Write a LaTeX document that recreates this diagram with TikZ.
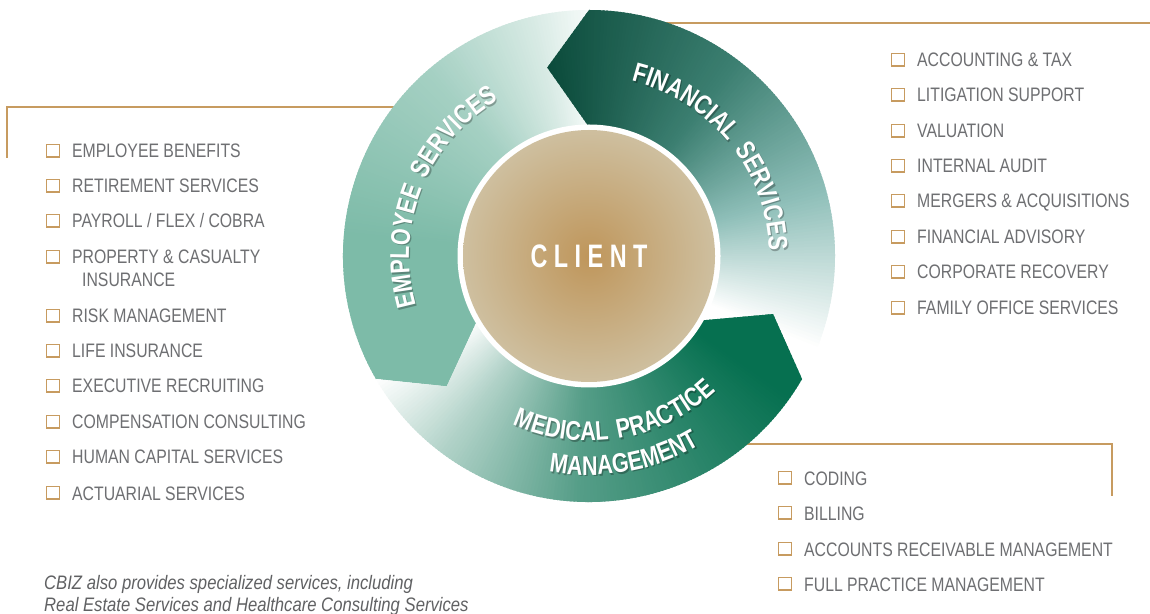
\documentclass[tikz,border=0pt]{standalone}
\usepackage{fontspec}
\setmainfont{Liberation Sans}[FakeStretch=0.81]
\newfontfamily\bandfont{Liberation Sans}[FakeStretch=0.8,LetterSpace=12]
\newfontfamily\clientfont{Liberation Sans}[FakeStretch=0.72]
\newfontfamily\notefont{Liberation Sans}[FakeStretch=0.855]
\usetikzlibrary{decorations.text}

\definecolor{gold}{RGB}{199,155,96}
\definecolor{listgray}{RGB}{110,111,114}
\definecolor{notegray}{RGB}{96,97,99}
\definecolor{empteal}{RGB}{125,187,168}
\definecolor{medgreen}{RGB}{6,112,80}
\definecolor{findark}{RGB}{11,75,59}
\definecolor{finmid}{RGB}{60,127,113}
\definecolor{finlight}{RGB}{143,191,185}
\definecolor{clientin}{RGB}{191,150,91}
\definecolor{clientout}{RGB}{206,191,159}

\newcommand\bandtype{\bandfont\bfseries\fontsize{27}{27}\selectfont}

% Angular colour ramp inside the current clip, built from thin wedges.
% #1,#2: angle range; #3: angle of colour gA; #4: angle of colour gD;
% #5,#6: ramp positions of gB and gC.
\newcommand\ringfill[6]{%
  \pgfmathtruncatemacro\nsteps{ceil(((#2)-(#1))/0.8)}%
  \foreach \i in {0,...,\nsteps}{%
    \pgfmathsetmacro\ang{(#1)+0.8*\i}%
    \pgfmathsetmacro\fr{min(1,max(0,((#3)-(\ang)-0.4)/((#3)-(#4))))}%
    \ifdim\fr pt<#5pt
      \pgfmathsetmacro\mixv{100*\fr/#5}\colorlet{gc}{gB!\mixv!gA}%
    \else\ifdim\fr pt<#6pt
      \pgfmathsetmacro\mixv{100*(\fr-#5)/(#6-#5)}\colorlet{gc}{gC!\mixv!gB}%
    \else
      \pgfmathsetmacro\mixv{100*(\fr-#6)/(1-#6)}\colorlet{gc}{gD!\mixv!gC}%
    \fi\fi
    \fill[gc] (0,0) -- (\ang:260pt) arc[start angle=\ang, end angle=\ang+1.2, radius=260pt] -- cycle;
  }}

\newcommand\entry[4]{%
  \node[chk] (#1box) at (#2,{620.3-#3}) {};
  \node[item] (#1) at ({#2+19},{613-#3}) {#4};
}

\begin{document}
\begin{tikzpicture}[x=1pt,y=1pt,
  bracket/.style={draw=gold, line width=2.4pt},
  chk/.style={draw=gold, line width=1.4pt, minimum size=12.6pt, inner sep=0pt, fill=white},
  item/.style={anchor=base west, inner sep=0pt, text=listgray, font=\fontsize{19.5}{22}\selectfont},
  note/.style={anchor=base west, inner sep=0pt, text=notegray, font=\notefont\itshape\fontsize{19.5}{22}\selectfont},
  bandlabel/.style={decorate, decoration={text along path, text align=center, text color=white, text={|\bandtype|#1}}},
  bandshadow/.style={decorate, decoration={text along path, text align=center, text color=black, text={|\bandtype|#1}}}
]
\useasboundingbox (0,0) rectangle (1150,613);
\fill[white] (0,0) rectangle (1150,613);

% gold brackets behind the ring
\draw[bracket] (7,455) -- (7,506) -- (400,506);
\draw[bracket] (650,590) -- (1150,590);
\draw[bracket] (700,169) -- (1112,169) -- (1112,117);

\begin{scope}[shift={(589,357)}]
  % employee services band
  \begin{scope}
    \colorlet{gA}{empteal}\colorlet{gB}{empteal!69!white}\colorlet{gC}{empteal!31!white}\colorlet{gD}{white}
    \clip (210:129pt) -- (222.5:193pt) -- (210:246pt) arc[start angle=210, end angle=90, radius=246pt]
      -- (90:129pt) arc[start angle=90, end angle=210, radius=129pt] -- cycle;
    \ringfill{88}{225}{175}{86}{0.5}{0.8}
  \end{scope}
  % financial services band
  \begin{scope}
    \colorlet{gA}{findark}\colorlet{gB}{finmid}\colorlet{gC}{finlight}\colorlet{gD}{white}
    \clip (90:129pt) -- (102.5:193pt) -- (90:246pt) arc[start angle=90, end angle=-30, radius=246pt]
      -- (-30:129pt) arc[start angle=-30, end angle=90, radius=129pt] -- cycle;
    \ringfill{-32}{104}{102}{-22}{0.395}{0.70}
  \end{scope}
  % medical practice management band
  \begin{scope}
    \colorlet{gA}{medgreen}\colorlet{gB}{medgreen!68!white}\colorlet{gC}{medgreen!31!white}\colorlet{gD}{white}
    \clip (-30:129pt) -- (-17.5:193pt) -- (-30:246pt) arc[start angle=-30, end angle=-150, radius=246pt]
      -- (-137.5:193pt) -- (-150:129pt) arc[start angle=-150, end angle=-30, radius=129pt] -- cycle;
    \ringfill{-152}{-16}{-35}{-150}{0.5}{0.8}
  \end{scope}

  % client hub
  \node[circle, fill=white, minimum size=263pt, inner sep=0pt] (halo) at (0,0) {};
  \node[circle, minimum size=252pt, inner sep=0pt, inner color=clientin, outer color=clientout,
        text=white, font=\clientfont\bfseries\fontsize{32.5}{32.5}\selectfont] (client) at (0,0)
        {C\kern6.5pt L\kern6.5pt I\kern6.5pt E\kern6.5pt N\kern6.5pt T};

  % band titles with a soft shadow
  \begin{scope}[shift={(1.3pt,-1.6pt)}, opacity=0.28]
    \path[bandshadow=EMPLOYEE SERVICES] (248:180pt) arc[start angle=248, end angle=68, radius=180pt];
    \path[bandshadow=FINANCIAL SERVICES] (129:180pt) arc[start angle=129, end angle=-51, radius=180pt];
    \path[bandshadow=MEDICAL PRACTICE] (-170.5:185pt) arc[start angle=-170.5, end angle=9.5, radius=185pt];
    \path[bandshadow=MANAGEMENT] (-170:219pt) arc[start angle=-170, end angle=10, radius=219pt];
  \end{scope}
  \path[bandlabel=EMPLOYEE SERVICES] (248:180pt) arc[start angle=248, end angle=68, radius=180pt];
  \path[bandlabel=FINANCIAL SERVICES] (129:180pt) arc[start angle=129, end angle=-51, radius=180pt];
  \path[bandlabel=MEDICAL PRACTICE] (-170.5:185pt) arc[start angle=-170.5, end angle=9.5, radius=185pt];
  \path[bandlabel=MANAGEMENT] (-170:219pt) arc[start angle=-170, end angle=10, radius=219pt];
\end{scope}

% employee services list
\entry{benefits}{53}{158}{EMPLOYEE BENEFITS}
\entry{retire}{53}{193}{RETIREMENT SERVICES}
\entry{payroll}{53}{228}{PAYROLL / FLEX / COBRA}
\entry{property}{53}{264}{PROPERTY \& CASUALTY}
\node[item] (insurance) at (82,{613-287}) {INSURANCE};
\entry{risk}{53}{323}{RISK MANAGEMENT}
\entry{life}{53}{358}{LIFE INSURANCE}
\entry{recruit}{53}{393}{EXECUTIVE RECRUITING}
\entry{comp}{53}{429}{COMPENSATION CONSULTING}
\entry{human}{53}{464}{HUMAN CAPITAL SERVICES}
\entry{actuarial}{53}{500}{ACTUARIAL SERVICES}

% financial services list
\entry{tax}{898}{67}{ACCOUNTING \& TAX}
\entry{litigation}{898}{102}{LITIGATION SUPPORT}
\entry{valuation}{898}{138}{VALUATION}
\entry{audit}{898}{173}{INTERNAL AUDIT}
\entry{mergers}{898}{208}{MERGERS \& ACQUISITIONS}
\entry{advisory}{898}{244}{FINANCIAL ADVISORY}
\entry{recovery}{898}{279}{CORPORATE RECOVERY}
\entry{family}{898}{315}{FAMILY OFFICE SERVICES}

% medical practice list
\entry{coding}{785}{485}{CODING}
\entry{billing}{785}{520}{BILLING}
\entry{receivable}{785}{556}{ACCOUNTS RECEIVABLE MANAGEMENT}
\entry{fullpractice}{785}{591}{FULL PRACTICE MANAGEMENT}

% footnote
\node[note] (note1) at (44,{613-589}) {CBIZ also provides specialized services, including};
\node[note] (note2) at (44,{613-611}) {Real Estate Services and Healthcare Consulting Services};
\end{tikzpicture}
\end{document}
